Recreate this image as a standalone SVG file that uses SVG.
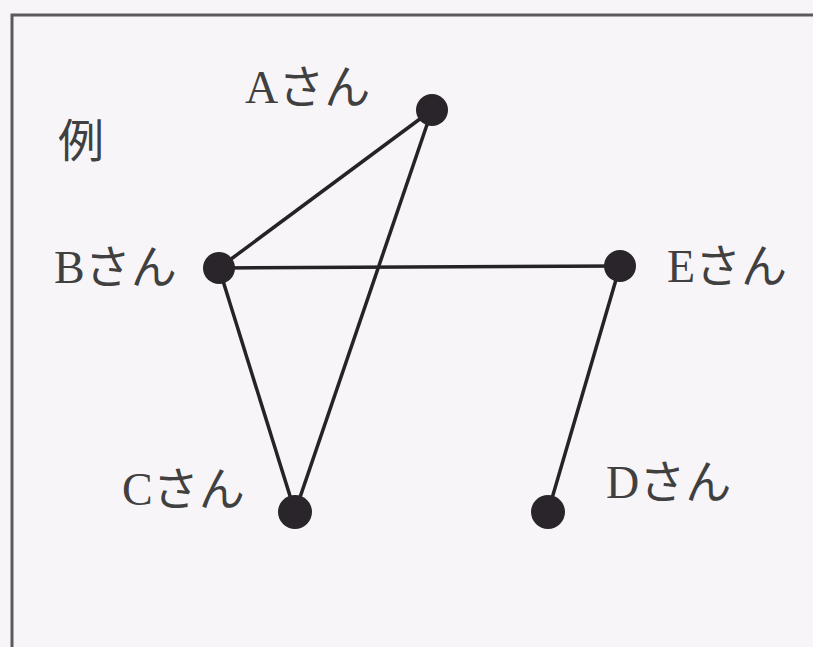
<svg xmlns="http://www.w3.org/2000/svg" width="813" height="647" viewBox="0 0 813 647">
<style>
.lbl{font-family:"Liberation Serif","Noto Sans CJK JP",serif;font-size:46px;fill:#404040}
.edge{stroke:#262226;stroke-width:3.5;fill:none}
.dot{fill:#2a252a}
</style>
<rect x="0" y="0" width="813" height="647" fill="#f8f5f8"/>
<path d="M12 660 V15 H830" fill="none" stroke="#5a5a5a" stroke-width="3"/>
<text class="lbl" x="58" y="157" font-size="50">例</text>
<g id="connectors">
<line class="edge" x1="432" y1="110" x2="219" y2="268"/>
<line class="edge" x1="432" y1="110" x2="295" y2="512"/>
<line class="edge" x1="219" y1="268" x2="620" y2="266"/>
<line class="edge" x1="219" y1="268" x2="295" y2="512"/>
<line class="edge" x1="620" y1="266" x2="548" y2="512"/>
</g>
<g id="nodeA"><circle class="dot" cx="432" cy="110" r="16"/><text class="lbl" x="245" y="103">Aさん</text></g>
<g id="nodeB"><circle class="dot" cx="219" cy="268" r="16"/><text class="lbl" x="54" y="283">Bさん</text></g>
<g id="nodeE"><circle class="dot" cx="620" cy="266" r="16"/><text class="lbl" x="667" y="282">Eさん</text></g>
<g id="nodeC"><circle class="dot" cx="295" cy="512" r="17"/><text class="lbl" x="122" y="505">Cさん</text></g>
<g id="nodeD"><circle class="dot" cx="548" cy="512" r="17"/><text class="lbl" x="606" y="498">Dさん</text></g>
</svg>
